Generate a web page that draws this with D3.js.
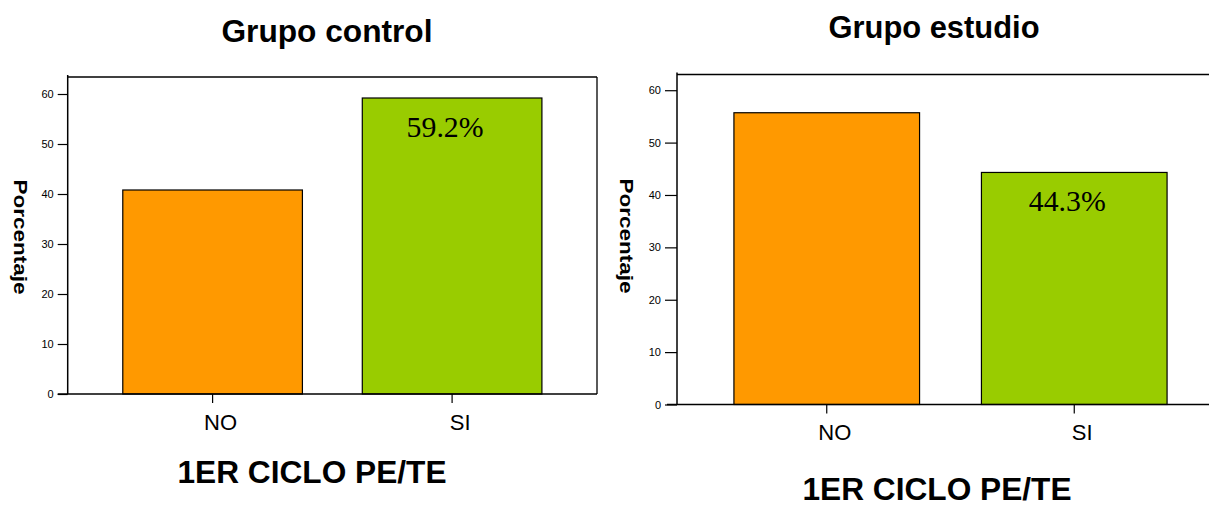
<!DOCTYPE html>
<html>
<head>
<meta charset="utf-8">
<script src="https://cdn.jsdelivr.net/npm/d3@7"></script>
<style>
  body { margin: 0; background: #fff; }
  svg { display: block; }
  text { font-family: "Liberation Sans", Arial, sans-serif; }
</style>
</head>
<body>
<svg id="chart" width="1209" height="510"></svg>
<script>
// data
var categories = ["NO", "SI"];
var controlValues = [40.8, 59.2];
var estudioValues = [55.7, 44.3];
var yTicks = [0, 10, 20, 30, 40, 50, 60];
var barColors = ["#FF9900", "#99CC00"];
var labelled = "SI";   // only this bar gets a % label

var svg = d3.select("#chart");

function drawPanel(p) {
    var x = d3.scaleBand()
        .domain(categories)
        .range([p.left, p.right])
        .paddingInner(0.25)
        .paddingOuter(0.23);

    var y = d3.scaleLinear()
        .domain([0, p.yMax])
        .range([p.bottom, p.top]);

    var g = svg.append("g");

    // frame (top + right lines)
    g.append("line")
        .attr("x1", p.left).attr("x2", p.right)
        .attr("y1", p.top).attr("y2", p.top)
        .attr("stroke", "#000").attr("stroke-width", 1.3);
    g.append("line")
        .attr("x1", p.right).attr("x2", p.right)
        .attr("y1", p.top).attr("y2", p.bottom)
        .attr("stroke", "#000").attr("stroke-width", 1.3);

    // bars
    g.selectAll("rect.bar")
        .data(p.values)
        .enter().append("rect")
        .attr("class", "bar")
        .attr("x", function(d, i) { return x(categories[i]); })
        .attr("width", x.bandwidth())
        .attr("y", function(d) { return y(d); })
        .attr("height", function(d) { return p.bottom - y(d); })
        .attr("fill", function(d, i) { return barColors[i]; })
        .attr("stroke", "#000")
        .attr("stroke-width", 1.2);

    // value label
    var li = categories.indexOf(labelled);
    var v = p.values[li];
    g.append("text")
        .attr("x", x(labelled) + x.bandwidth() / 2 - 7)
        .attr("y", y(v) + 39)
        .attr("text-anchor", "middle")
        .style("font-family", "'Liberation Serif', 'Times New Roman', serif")
        .attr("font-size", 30)
        .attr("textLength", 77)
        .attr("lengthAdjust", "spacingAndGlyphs")
        .text(v.toFixed(1) + "%");

    // y axis
    var yAxis = d3.axisLeft(y)
        .tickValues(yTicks)
        .tickSize(p.tickLen)
        .tickPadding(4)
        .tickSizeOuter(0);
    g.append("g")
        .attr("transform", "translate(" + p.left + ",0)")
        .call(yAxis)
        .call(function(a) {
            a.select(".domain").attr("stroke-width", 1.5)
                .attr("d", "M0," + (p.top - 2) + "V" + p.bottom);
            a.selectAll(".tick line").attr("stroke-width", 1.2);
            a.selectAll(".tick text").attr("font-size", 11)
                .attr("font-family", "'Liberation Sans', Arial, sans-serif");
        });

    // x axis
    var xAxis = d3.axisBottom(x)
        .tickSize(9)
        .tickPadding(0)
        .tickSizeOuter(0);
    g.append("g")
        .attr("transform", "translate(0," + p.bottom + ")")
        .call(xAxis)
        .call(function(a) {
            a.select(".domain").attr("stroke-width", 1.5)
                .attr("d", "M" + (p.left - 10) + ",0H" + p.right);
            a.selectAll(".tick line").attr("stroke-width", 1.2);
            a.selectAll(".tick text")
                .attr("font-size", 22)
                .attr("font-family", "'Liberation Sans', Arial, sans-serif")
                .attr("dy", null)
                .attr("y", p.xLabelDy)
                .attr("x", 8);
        });

    // titles
    g.append("text")
        .attr("x", p.titleX).attr("y", p.titleY)
        .attr("text-anchor", "middle")
        .attr("font-weight", "bold")
        .attr("font-size", 31)
        .attr("textLength", 211)
        .attr("lengthAdjust", "spacingAndGlyphs")
        .text(p.title);

    g.append("text")
        .attr("x", p.subX).attr("y", p.subY)
        .attr("text-anchor", "middle")
        .attr("font-weight", "bold")
        .attr("font-size", 31)
        .attr("textLength", 269)
        .attr("lengthAdjust", "spacingAndGlyphs")
        .text("1ER CICLO PE/TE");

    g.append("text")
        .attr("transform", "translate(" + p.yLabX + "," + p.yLabY + ") rotate(90)")
        .attr("text-anchor", "middle")
        .attr("font-weight", "bold")
        .attr("font-size", 19)
        .attr("textLength", 115)
        .attr("lengthAdjust", "spacingAndGlyphs")
        .text("Porcentaje");
}

drawPanel({
    values: controlValues, title: "Grupo control",
    left: 67.7, right: 597, top: 77, bottom: 394, yMax: 63.4,
    tickLen: 10, xLabelDy: 36,
    titleX: 327, titleY: 42, subX: 312, subY: 483,
    yLabX: 14, yLabY: 237
});

drawPanel({
    values: estudioValues, title: "Grupo estudio",
    left: 677, right: 1224, top: 74.5, bottom: 404.5, yMax: 63,
    tickLen: 12, xLabelDy: 35,
    titleX: 934, titleY: 38, subX: 937, subY: 500,
    yLabX: 620, yLabY: 236
});
</script>
</body>
</html>
